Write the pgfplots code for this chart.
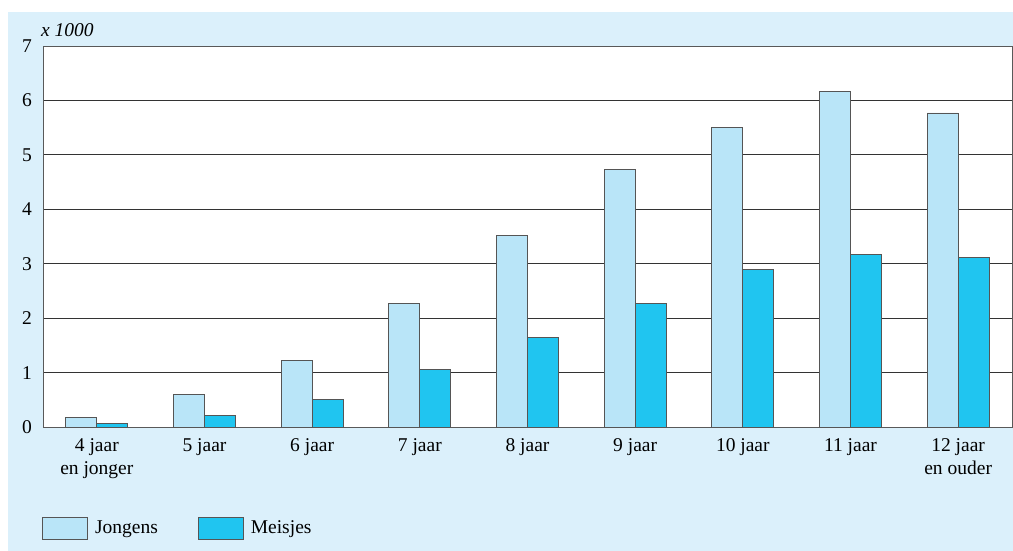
\documentclass[border=0pt]{standalone}
\usepackage{pgfplots}
\pgfplotsset{compat=1.18}
\usepackage{fontspec}
\setmainfont{Liberation Serif}
\definecolor{bg}{HTML}{DBF0FB}
\definecolor{jong}{HTML}{B9E5F8}
\definecolor{meis}{HTML}{20C5F0}
\definecolor{edge}{HTML}{555555}
\begin{document}
\begin{tikzpicture}
\useasboundingbox (0,0) rectangle (1013pt,-551pt);
\fill[white] (0,0) rectangle (1013pt,-551pt);
\fill[bg] (8pt,-12pt) rectangle (1013pt,-551pt);
\begin{axis}[
  at={(43pt,-427pt)}, anchor=south west,
  scale only axis, width=969pt, height=381pt,
  clip=false,
  ybar=0pt, bar width=31pt,
  xmin=-0.5, xmax=8.5, ymin=0, ymax=7,
  xtick={0,...,8},
  xticklabels={{4 jaar\\en jonger},{5 jaar},{6 jaar},{7 jaar},{8 jaar},{9 jaar},{10 jaar},{11 jaar},{12 jaar\\en ouder}},
  xticklabel style={align=center, anchor=north, inner sep=0pt, yshift=-11pt},
  ytick={0,...,7},
  yticklabel style={anchor=east, inner sep=0pt, xshift=-11pt},
  major tick length=0pt,
  ymajorgrids, grid style={draw=black!80, line width=0.9pt},
  axis line style={draw=black!65, line width=0.9pt},
  axis background/.style={fill=white},
  tick label style={font=\fontsize{19.5}{23}\selectfont},
  /pgf/number format/assume math mode=true,
  legend style={at={(0,0)}, anchor=west, xshift=-1pt, yshift=-101pt,
    draw=none, fill=none, inner sep=0pt,
    font=\fontsize{19.5}{23}\selectfont,
    /tikz/every odd column/.append style={column sep=5pt},
    /tikz/every even column/.append style={column sep=38pt}},
  legend columns=2, legend cell align=left,
]
\addplot[fill=jong, draw=edge, line width=0.9pt,
  legend image code/.code={\draw[fill=jong,draw=edge,line width=0.9pt] (0pt,-11pt) rectangle (45pt,11pt);}]
  coordinates {(0,0.17) (1,0.60) (2,1.23) (3,2.27) (4,3.52) (5,4.73) (6,5.50) (7,6.17) (8,5.77)};
\addlegendentry{Jongens}
\addplot[fill=meis, draw=edge, line width=0.9pt,
  legend image code/.code={\draw[fill=meis,draw=edge,line width=0.9pt] (0pt,-11pt) rectangle (45pt,11pt);}]
  coordinates {(0,0.07) (1,0.22) (2,0.50) (3,1.06) (4,1.64) (5,2.27) (6,2.89) (7,3.17) (8,3.12)};
\addlegendentry{Meisjes}
\node[anchor=base west, inner sep=0pt, font=\itshape\fontsize{19.5}{23}\selectfont]
  at (rel axis cs:0,1) [xshift=-2pt, yshift=10pt] {x 1000};
\end{axis}
\end{tikzpicture}
\end{document}
